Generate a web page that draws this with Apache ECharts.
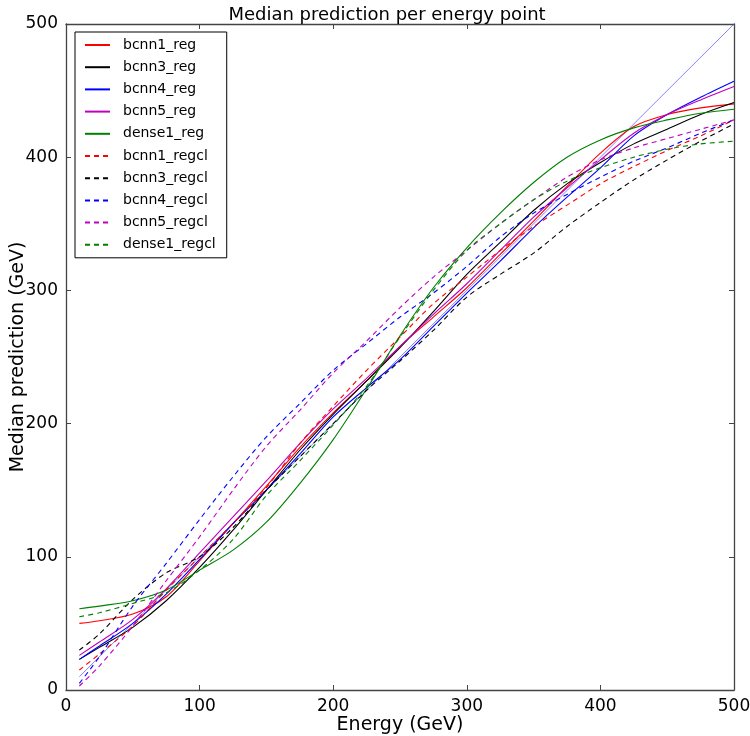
<!DOCTYPE html>
<html>
<head>
<meta charset="utf-8">
<script src="https://cdn.jsdelivr.net/npm/echarts@6/dist/echarts.min.js"></script>
<style>html,body{margin:0;padding:0;background:#fff}#c{width:750px;height:736px}</style>
</head>
<body>
<div id="c"></div>
<script>
const energies = [10,25,50,75,100,125,150,175,200,225,250,275,300,325,350,375,400,425,450,475,500];

const bcnn1_reg   = [50,52,57,70,97,125,153,182,208,232,258,280,302,327,352,378,403,423,432,437,440];
const bcnn3_reg   = [23,32,47,67,92,120,150,180,207,232,257,284,312,336,360,380,396,410,421,432,441];
const bcnn4_reg   = [23,33,50,72,98,125,150,177,205,227,248,273,298,322,347,370,392,416,432,445,457];
const bcnn5_reg   = [26,36,53,76,103,130,157,185,211,234,258,282,305,330,355,377,398,418,432,443,453];
const dense1_reg  = [61,63,67,75,90,105,126,155,188,226,266,302,332,358,381,400,413,422,428,433,436];
const bcnn1_regcl = [15,27,48,75,100,125,152,185,213,240,265,290,310,330,348,364,380,393,405,416,428];
const bcnn3_regcl = [30,42,68,88,100,122,150,175,200,225,247,270,295,312,328,348,366,383,398,412,425];
const bcnn4_regcl = [5,25,63,95,128,160,190,215,240,260,280,298,318,340,358,372,385,397,407,418,428];
const bcnn5_regcl = [3,18,48,82,115,150,183,210,238,262,287,310,330,350,368,385,398,407,414,421,428];
const dense1_regcl= [55,58,65,73,90,113,146,172,199,228,265,300,330,350,368,382,392,400,406,410,412];
const diagonal = [10,500];

const seriesDefs = [
  ['bcnn1_reg', bcnn1_reg, '#ff0000', 'solid'],
  ['bcnn3_reg', bcnn3_reg, '#000000', 'solid'],
  ['bcnn4_reg', bcnn4_reg, '#0000ff', 'solid'],
  ['bcnn5_reg', bcnn5_reg, '#bf00bf', 'solid'],
  ['dense1_reg', dense1_reg, '#008000', 'solid'],
  ['bcnn1_regcl', bcnn1_regcl, '#ff0000', 'dashed'],
  ['bcnn3_regcl', bcnn3_regcl, '#000000', 'dashed'],
  ['bcnn4_regcl', bcnn4_regcl, '#0000ff', 'dashed'],
  ['bcnn5_regcl', bcnn5_regcl, '#bf00bf', 'dashed'],
  ['dense1_regcl', dense1_regcl, '#008000', 'dashed']
];

const FONT = 'DejaVu Sans';
const series = seriesDefs.map(([name, vals, color, type]) => ({
  name, type: 'line', symbol: 'none', smooth: 0.3,
  data: energies.map((e, i) => [e, vals[i]]),
  lineStyle: {color, width: 1.1, type: type === 'dashed' ? [5, 4] : 'solid'},
  itemStyle: {color},
  z: 3
}));
series.push({
  name: 'diag', type: 'line', symbol: 'none',
  data: diagonal.map(v => [v, v]),
  lineStyle: {color: '#5050ff', width: 0.7},
  z: 2, silent: true
});

const chart = echarts.init(document.getElementById('c'), null, {renderer: 'canvas'});
function axisBase() {
  return {
    type: 'value', min: 0, max: 500, interval: 100,
    axisLine: {show: true, onZero: false, lineStyle: {color: '#444', width: 1.3}},
    axisTick: {show: true, inside: true, length: 5, lineStyle: {color: '#444'}},
    splitLine: {show: false}
  };
}
chart.setOption({
  animation: false,
  backgroundColor: '#fff',
  title: {
    text: 'Median prediction per energy point', left: 382, top: 1, textAlign: 'center',
    textStyle: {fontFamily: FONT, fontSize: 18, fontWeight: 'normal', color: '#000'}
  },
  legend: {
    orient: 'vertical', left: 75, top: 32,
    data: seriesDefs.map(s => s[0]),
    itemWidth: 25, itemHeight: 14, itemGap: 8.2,
    itemStyle: {opacity: 0},
    borderColor: '#000', borderWidth: 1, backgroundColor: '#fff', borderRadius: 0,
    padding: [6, 11, 6, 9],
    textStyle: {fontFamily: FONT, fontSize: 14, color: '#000', padding: [0, 0, 0, 8]}
  },
  grid: {left: 66, right: 16, top: 24, bottom: 46, containLabel: false, outerBoundsMode: 'none'},
  xAxis: [
    Object.assign(axisBase(), {
      position: 'bottom',
      name: 'Energy (GeV)', nameLocation: 'middle', nameGap: 26, nameMoveOverlap: false,
      nameTextStyle: {fontFamily: FONT, fontSize: 19, color: '#000'},
      axisLabel: {fontFamily: FONT, fontSize: 17, color: '#000', margin: 8}
    }),
    Object.assign(axisBase(), {position: 'top', axisLabel: {show: false}})
  ],
  yAxis: [
    Object.assign(axisBase(), {
      position: 'left',
      name: 'Median prediction (GeV)', nameLocation: 'middle', nameGap: 38, nameMoveOverlap: false,
      nameTextStyle: {fontFamily: FONT, fontSize: 19, color: '#000'},
      axisLabel: {fontFamily: FONT, fontSize: 17, color: '#000', margin: 8}
    }),
    Object.assign(axisBase(), {position: 'right', axisLabel: {show: false}})
  ],
  series
});
</script>
</body>
</html>
